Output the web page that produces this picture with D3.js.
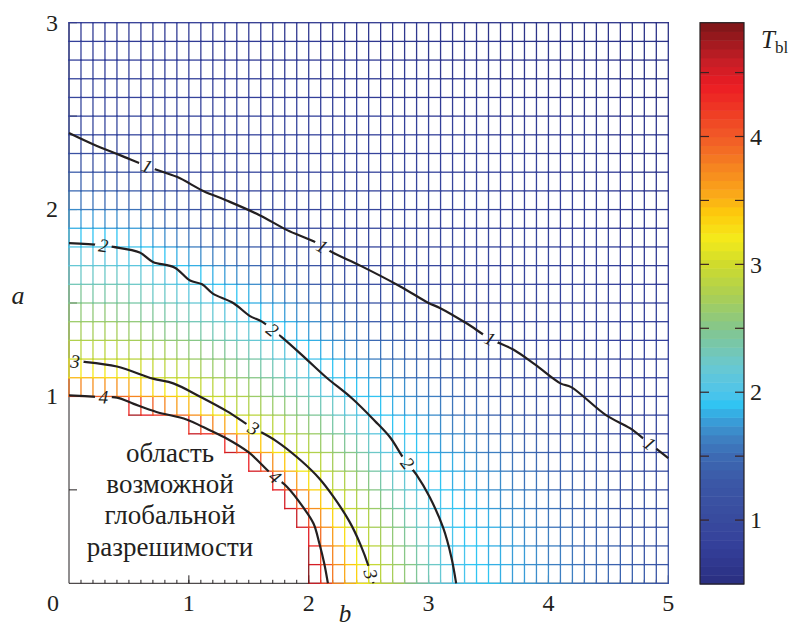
<!DOCTYPE html>
<html lang="ru">
<head>
  <meta charset="utf-8" />
  <title>T_bl(b, a)</title>
  <script src="https://cdn.jsdelivr.net/npm/d3@7"></script>
  <style>
body{ margin:0; background:#fff; }
svg text{ font-family:"Liberation Serif","DejaVu Serif",serif; fill:#231f20; }
  </style>
</head>
<body>
<svg id="chart" width="793" height="630"></svg>
<script>
// mesh: b = 0..5, a = 0..3, step 0.1
const bStep = 0.1, aStep = 0.1, bCells = 50, aCells = 30;

// first defined column (index of b) in rows a = 0.0, 0.1, ... 1.0; rows above are full
const firstValidCol = [20, 20, 20, 19, 18, 17, 15, 13, 10, 5, 0];

// contour lines, points [b, a]
const contour1 = [[0,2.41],[0.2,2.35],[0.43,2.29],[0.7,2.22],[0.9,2.175],[1.12,2.10],[1.31,2.05],[1.59,1.97],[1.82,1.89],[2.04,1.83],[2.2,1.77],[2.43,1.70],[2.76,1.59],[3.0,1.50],[3.09,1.475],[3.32,1.39],[3.51,1.31],[3.71,1.25],[3.89,1.17],[4.1,1.07],[4.19,1.05],[4.48,0.90],[4.68,0.83],[4.82,0.76],[5.0,0.67]];
const contour2 = [[0,1.82],[0.26,1.81],[0.37,1.80],[0.59,1.77],[0.70,1.72],[0.88,1.69],[1.01,1.62],[1.11,1.60],[1.20,1.55],[1.37,1.50],[1.51,1.43],[1.61,1.40],[1.77,1.32],[1.98,1.20],[2.15,1.10],[2.36,0.99],[2.55,0.87],[2.68,0.78],[2.79,0.67],[2.90,0.58],[3.01,0.46],[3.12,0.30],[3.19,0.14],[3.23,0]];
const contour3 = [[0,1.19],[0.13,1.185],[0.40,1.16],[0.70,1.095],[0.87,1.07],[1.09,1.00],[1.32,0.92],[1.50,0.845],[1.72,0.765],[1.93,0.66],[2.09,0.56],[2.21,0.46],[2.34,0.33],[2.43,0.21],[2.50,0.09],[2.54,0]];
const contour4 = [[0,1.006],[0.23,0.998],[0.40,0.994],[0.54,0.96],[0.73,0.917],[0.98,0.877],[1.12,0.836],[1.30,0.78],[1.50,0.70],[1.68,0.59],[1.82,0.515],[1.95,0.41],[2.04,0.32],[2.09,0.21],[2.13,0.105],[2.16,0]];
const contourLevels = [1, 2, 3, 4];

// edge of the undefined region (largest T) and values along the outer border
const blowupLine = [[0,0.97],[0.45,0.9],[0.98,0.79],[1.28,0.69],[1.48,0.59],[1.68,0.49],[1.79,0.39],[1.89,0.29],[1.97,0.18],[1.99,0]];
const blowupT = 4.89;
const topEdgeB = [0, 1, 2, 3, 4, 5];
const topEdgeT = [0.75, 0.72, 0.68, 0.64, 0.6, 0.56];
const rightEdgeA = [0, 0.5, 1, 1.5, 2, 2.5, 3];
const rightEdgeT = [1.3, 1.08, 0.9, 0.78, 0.7, 0.62, 0.56];

// contour labels [level, b, a]
const contourLabels = [[1,0.648,2.228],[1,2.11,1.80],[1,3.51,1.305],[1,4.84,0.744],
  [2,0.286,1.805],[2,1.69,1.35],[2,2.82,0.64],
  [3,0.05,1.175],[3,1.54,0.83],[3,2.52,0.05],
  [4,0.286,0.98],[4,1.72,0.57]];

// colour bar
const cbMin = 0.5, cbMax = 4.89, cbBands = 64;
const cbTicks = [1, 1.5, 2, 2.5, 3, 3.5, 4, 4.5];
const cbLabels = [1, 2, 3, 4];
const cmapValues = [0.5,0.8,1.0,1.3,1.5,1.65,1.8,1.9,2.0,2.2,2.5,2.75,3.0,3.2,3.4,3.55,3.75,4.0,4.2,4.4,4.6,4.89];
const cmapColors = ['#2a2e80','#34409a','#384a9e','#3b58a6','#3d6ab3','#3e82c3','#38a3dc','#2fc4f2','#4fc4ea','#68c8d2','#84c68c','#aacf55','#cfdb2c','#f4eb1b','#fdca0c','#faa819','#f68620','#f15a27','#ef3a24','#ec1c24','#c41e26','#7a1517'];

const xTicks = [1, 2, 3, 4, 5];
const yTicks = [0.5, 1, 1.5, 2, 2.5, 3];
const regionText = ['область', 'возможной', 'глобальной', 'разрешимости'];

const svg = d3.select('#chart');
const x = d3.scaleLinear().domain([0, 5]).range([69, 668.3]);
const y = d3.scaleLinear().domain([0, 3]).range([583.3, 22.7]);
const cb = d3.scaleLinear().domain([cbMin, cbMax]).range([584, 22.7]);
const cmap = d3.scaleLinear().domain(cmapValues).range(cmapColors).interpolate(d3.interpolateRgb);

function bandColor(t){
  let k = Math.floor((t - cbMin) / (cbMax - cbMin) * cbBands);
  k = Math.max(0, Math.min(cbBands - 1, k));
  return cmap(cbMin + (k + 0.5) * (cbMax - cbMin) / cbBands);
}

// ---- field on the mesh, from the contour lines along rays out of the origin
const bScale = 2.2;
const toPolar = p => [Math.atan2(p[1], p[0] / bScale), Math.hypot(p[0] / bScale, p[1])];
const polarLine = line => line.map(toPolar).sort((p, q) => p[0] - q[0]);
const rayLines = [contour1, contour2, contour3, contour4].map((c, i) => ({level: contourLevels[i], pts: polarLine(c)}));
rayLines.push({level: blowupT, pts: polarLine(blowupLine)});

function radiusAt(pts, phi){
  if (phi < pts[0][0] - 1e-9 || phi > pts[pts.length - 1][0] + 1e-9) return null;
  for (let k = 1; k < pts.length; k++){
    if (phi <= pts[k][0] + 1e-12){
      const d = pts[k][0] - pts[k - 1][0];
      const t = d > 0 ? (phi - pts[k - 1][0]) / d : 0;
      return pts[k - 1][1] + t * (pts[k][1] - pts[k - 1][1]);
    }
  }
  return pts[pts.length - 1][1];
}

const topEdge = d3.scaleLinear().domain(topEdgeB).range(topEdgeT);
const rightEdge = d3.scaleLinear().domain(rightEdgeA).range(rightEdgeT);
function edgeKnot(phi){
  const c = Math.cos(phi), s = Math.sin(phi);
  const rRight = c > 1e-9 ? (5 / bScale) / c : Infinity;
  const rTop = s > 1e-9 ? 3 / s : Infinity;
  if (rRight < rTop) return [rRight, rightEdge(rRight * s)];
  return [rTop, topEdge(rTop * c * bScale)];
}

function fieldAt(b, a){
  const [phi, r] = toPolar([b, a]);
  let knots = [];
  rayLines.forEach(l => { const rr = radiusAt(l.pts, phi); if (rr != null) knots.push([rr, l.level]); });
  knots.push(edgeKnot(phi));
  knots.sort((p, q) => p[0] - q[0]);
  knots = knots.filter((k, i) => i == 0 || k[0] - knots[i - 1][0] > 1e-6);
  const f = d3.scaleLinear().domain(knots.map(k => k[0])).range(knots.map(k => k[1])).clamp(true);
  return Math.max(cbMin, Math.min(cbMax, f(r)));
}

const valid = (i, j) => j >= firstValidCol.length || i >= firstValidCol[j];
const T = [];
for (let j = 0; j <= aCells; j++){
  T.push([]);
  for (let i = 0; i <= bCells; i++) T[j].push(valid(i, j) ? fieldAt(i * bStep, j * aStep) : NaN);
}

const segs = [];
for (let j = 0; j <= aCells; j++){
  for (let i = 0; i <= bCells; i++){
    if (isNaN(T[j][i])) continue;
    if (i < bCells && !isNaN(T[j][i + 1])) segs.push({i1: i, j1: j, i2: i + 1, j2: j, t: (T[j][i] + T[j][i + 1]) / 2});
    if (j < aCells && !isNaN(T[j + 1][i])) segs.push({i1: i, j1: j, i2: i, j2: j + 1, t: (T[j][i] + T[j + 1][i]) / 2});
  }
}

// ---- axes (under the mesh)
const axes = svg.append('g').attr('stroke', '#231f20').attr('stroke-width', 1);
axes.append('line').attr('x1', x(0)).attr('x2', x(5)).attr('y1', y(0)).attr('y2', y(0));
axes.append('line').attr('x1', x(0)).attr('x2', x(0)).attr('y1', y(0)).attr('y2', y(3));
axes.selectAll('.xminor').data(d3.range(1, 50).map(k => k / 10)).join('line')
    .attr('x1', d => x(d)).attr('x2', d => x(d)).attr('y1', y(0)).attr('y2', y(0) - 3.5);
axes.selectAll('.xmajor').data(xTicks).join('line')
    .attr('x1', d => x(d)).attr('x2', d => x(d)).attr('y1', y(0)).attr('y2', y(0) - 8);
axes.selectAll('.ymajor').data(yTicks).join('line')
    .attr('x1', x(0)).attr('x2', x(0) + 8).attr('y1', d => y(d)).attr('y2', d => y(d));

// ---- mesh
svg.append('g')
    .attr('stroke-width', 1.3)
    .attr('stroke-linecap', 'square')
  .selectAll('line')
  .data(segs)
  .join('line')
    .attr('x1', d => x(d.i1 * bStep)).attr('y1', d => y(d.j1 * aStep))
    .attr('x2', d => x(d.i2 * bStep)).attr('y2', d => y(d.j2 * aStep))
    .attr('stroke', d => bandColor(d.t));

// ---- contour lines with gaps for labels
const contourData = [contour1, contour2, contour3, contour4];
function labelPlace(line, b, a){
  const px = x(b), py = y(a);
  let best = null;
  for (let k = 1; k < line.length; k++){
    const x1 = x(line[k - 1][0]), y1 = y(line[k - 1][1]), x2 = x(line[k][0]), y2 = y(line[k][1]);
    const dx = x2 - x1, dy = y2 - y1, L = dx * dx + dy * dy;
    let t = L > 0 ? ((px - x1) * dx + (py - y1) * dy) / L : 0;
    t = Math.max(0, Math.min(1, t));
    const qx = x1 + t * dx, qy = y1 + t * dy, dist = Math.hypot(px - qx, py - qy);
    if (!best || dist < best.dist){
      let ang = Math.atan2(dy, dx) * 180 / Math.PI;
      if (ang > 90) ang -= 180;
      if (ang < -90) ang += 180;
      best = {x: qx, y: qy, ang: ang, dist: dist};
    }
  }
  return best;
}
const labels = contourLabels.map(l => Object.assign({level: l[0]}, labelPlace(contourData[l[0] - 1], l[1], l[2])));

const defs = svg.append('defs');
const mask = defs.append('mask').attr('id', 'gaps').attr('maskUnits', 'userSpaceOnUse')
    .attr('x', 0).attr('y', 0).attr('width', 793).attr('height', 630);
mask.append('rect').attr('width', 793).attr('height', 630).attr('fill', '#fff');
mask.selectAll('circle').data(labels).join('circle')
    .attr('cx', d => d.x).attr('cy', d => d.y).attr('r', 8.5).attr('fill', '#000');

const lineGen = d3.line().x(d => x(d[0])).y(d => y(d[1])).curve(d3.curveCatmullRom.alpha(0.5));
svg.append('g')
    .attr('mask', 'url(#gaps)')
    .attr('fill', 'none')
    .attr('stroke', '#231f20')
    .attr('stroke-width', 2.2)
    .attr('stroke-linejoin', 'round')
  .selectAll('path')
  .data(contourData)
  .join('path')
    .attr('d', lineGen);

svg.append('g')
  .selectAll('text')
  .data(labels)
  .join('text')
    .attr('transform', d => `translate(${d.x},${d.y}) rotate(${d.ang})`)
    .attr('text-anchor', 'middle')
    .attr('dy', '0.34em')
    .attr('font-size', 19)
    .attr('font-style', 'italic')
    .text(d => d.level);

// ---- tick labels
svg.append('g').attr('font-size', 24).attr('text-anchor', 'middle')
  .selectAll('text').data(xTicks).join('text')
    .attr('x', d => x(d)).attr('y', 611)
    .text(d => d);
svg.append('text').attr('x', 53).attr('y', 611).attr('font-size', 24).attr('text-anchor', 'middle').text('0');
svg.append('g').attr('font-size', 24).attr('text-anchor', 'end')
  .selectAll('text').data(yTicks.filter(d => d % 1 == 0)).join('text')
    .attr('x', 58).attr('y', d => y(d)).attr('dy', '0.33em')
    .text(d => d);

svg.append('text').attr('x', 345).attr('y', 622).attr('font-size', 25).attr('font-style', 'italic')
    .attr('text-anchor', 'middle').text('b');
svg.append('text').attr('x', 18).attr('y', 304).attr('font-size', 26).attr('font-style', 'italic')
    .attr('text-anchor', 'middle').text('a');

// ---- region caption
svg.append('g').attr('font-size', 27).attr('text-anchor', 'middle')
  .selectAll('text').data(regionText).join('text')
    .attr('x', 170).attr('y', (d, i) => 462 + i * 31.2)
    .text(d => d);

// ---- colour bar
const cbX = 700, cbW = 44;
const cbg = svg.append('g');
cbg.selectAll('rect').data(d3.range(cbBands)).join('rect')
    .attr('x', cbX).attr('width', cbW)
    .attr('y', k => cb(cbMin + (k + 1) * (cbMax - cbMin) / cbBands))
    .attr('height', k => cb(cbMin + k * (cbMax - cbMin) / cbBands) - cb(cbMin + (k + 1) * (cbMax - cbMin) / cbBands) + 0.5)
    .attr('fill', k => cmap(cbMin + (k + 0.5) * (cbMax - cbMin) / cbBands));
cbg.append('rect').attr('x', cbX).attr('y', cb(cbMax)).attr('width', cbW).attr('height', cb(cbMin) - cb(cbMax))
    .attr('fill', 'none').attr('stroke', '#231f20').attr('stroke-width', 1.2);
cbg.selectAll('.tl').data(cbTicks).join('line')
    .attr('x1', cbX).attr('x2', cbX + 9).attr('y1', d => cb(d)).attr('y2', d => cb(d))
    .attr('stroke', '#3a2222').attr('stroke-width', 1.2);
cbg.selectAll('.tr').data(cbTicks).join('line')
    .attr('x1', cbX + cbW - 9).attr('x2', cbX + cbW).attr('y1', d => cb(d)).attr('y2', d => cb(d))
    .attr('stroke', '#3a2222').attr('stroke-width', 1.2);
cbg.selectAll('text').data(cbLabels).join('text')
    .attr('x', 750).attr('y', d => cb(d)).attr('dy', '0.34em')
    .attr('font-size', 24)
    .text(d => d);

const tl = svg.append('text').attr('x', 761).attr('y', 48).attr('font-size', 25);
tl.append('tspan').attr('font-style', 'italic').text('T');
tl.append('tspan').attr('font-size', 17).attr('dy', 5).text('bl');
</script>
</body>
</html>
